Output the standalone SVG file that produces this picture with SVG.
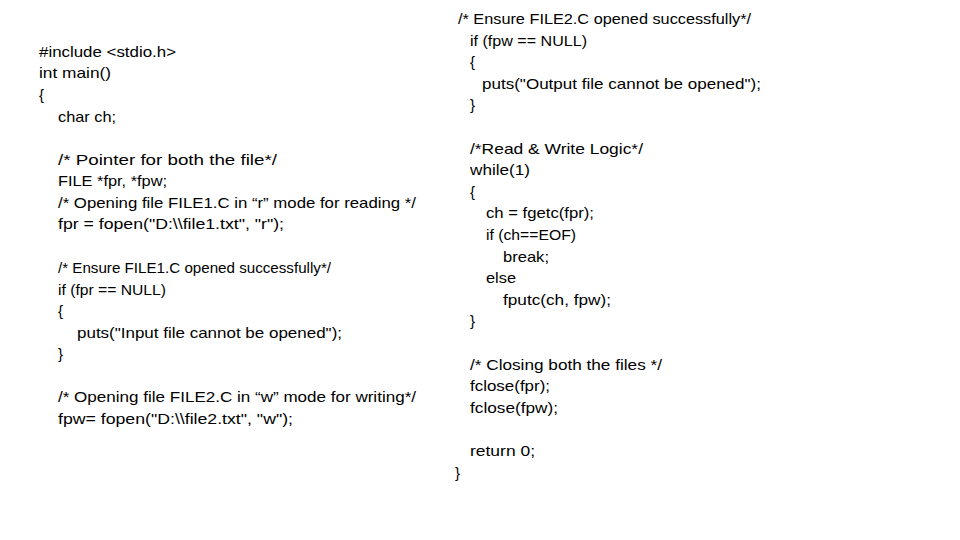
<svg xmlns="http://www.w3.org/2000/svg" width="960" height="540" viewBox="0 0 960 540">
<style>
text{font-family:"Liberation Sans",Arial,sans-serif;font-size:15px;fill:#000;}
</style>
<rect width="960" height="540" fill="#fff"/>
<g id="left-code">
<text x="39" y="57" textLength="137" lengthAdjust="spacingAndGlyphs">#include &lt;stdio.h&gt;</text>
<text x="39" y="78" textLength="72" lengthAdjust="spacingAndGlyphs">int main()</text>
<text x="39" y="100">{</text>
<text x="58" y="122" textLength="58" lengthAdjust="spacingAndGlyphs">char ch;</text>
<text x="58" y="165" textLength="219" lengthAdjust="spacingAndGlyphs">/* Pointer for both the file*/</text>
<text x="58" y="186" textLength="109" lengthAdjust="spacingAndGlyphs">FILE *fpr, *fpw;</text>
<text x="58" y="208" textLength="358" lengthAdjust="spacingAndGlyphs">/* Opening file FILE1.C in “r” mode for reading */</text>
<text x="58" y="229" textLength="226" lengthAdjust="spacingAndGlyphs">fpr = fopen("D:\\file1.txt", "r");</text>
<text x="58" y="273" textLength="273" lengthAdjust="spacingAndGlyphs">/* Ensure FILE1.C opened successfully*/</text>
<text x="58" y="295" textLength="108" lengthAdjust="spacingAndGlyphs">if (fpr == NULL)</text>
<text x="58" y="316">{</text>
<text x="77" y="338" textLength="265" lengthAdjust="spacingAndGlyphs">puts("Input file cannot be opened");</text>
<text x="58" y="359">}</text>
<text x="58" y="402" textLength="358" lengthAdjust="spacingAndGlyphs">/* Opening file FILE2.C in “w” mode for writing*/</text>
<text x="58" y="424" textLength="235" lengthAdjust="spacingAndGlyphs">fpw= fopen("D:\\file2.txt", "w");</text>
</g>
<g id="right-code">
<text x="458" y="24" textLength="293" lengthAdjust="spacingAndGlyphs">/* Ensure FILE2.C opened successfully*/</text>
<text x="470" y="46" textLength="117" lengthAdjust="spacingAndGlyphs">if (fpw == NULL)</text>
<text x="470" y="67">{</text>
<text x="482" y="89" textLength="279" lengthAdjust="spacingAndGlyphs">puts("Output file cannot be opened");</text>
<text x="470" y="110">}</text>
<text x="470" y="154" textLength="173" lengthAdjust="spacingAndGlyphs">/*Read &amp; Write Logic*/</text>
<text x="470" y="175" textLength="60" lengthAdjust="spacingAndGlyphs">while(1)</text>
<text x="470" y="197">{</text>
<text x="486" y="218" textLength="108" lengthAdjust="spacingAndGlyphs">ch = fgetc(fpr);</text>
<text x="486" y="240" textLength="90" lengthAdjust="spacingAndGlyphs">if (ch==EOF)</text>
<text x="503" y="262" textLength="46" lengthAdjust="spacingAndGlyphs">break;</text>
<text x="486" y="283" textLength="30" lengthAdjust="spacingAndGlyphs">else</text>
<text x="503" y="305" textLength="108" lengthAdjust="spacingAndGlyphs">fputc(ch, fpw);</text>
<text x="470" y="326">}</text>
<text x="470" y="370" textLength="192" lengthAdjust="spacingAndGlyphs">/* Closing both the files */</text>
<text x="470" y="391" textLength="80" lengthAdjust="spacingAndGlyphs">fclose(fpr);</text>
<text x="470" y="413" textLength="88" lengthAdjust="spacingAndGlyphs">fclose(fpw);</text>
<text x="470" y="456" textLength="65" lengthAdjust="spacingAndGlyphs">return 0;</text>
<text x="455" y="478">}</text>
</g>
</svg>
